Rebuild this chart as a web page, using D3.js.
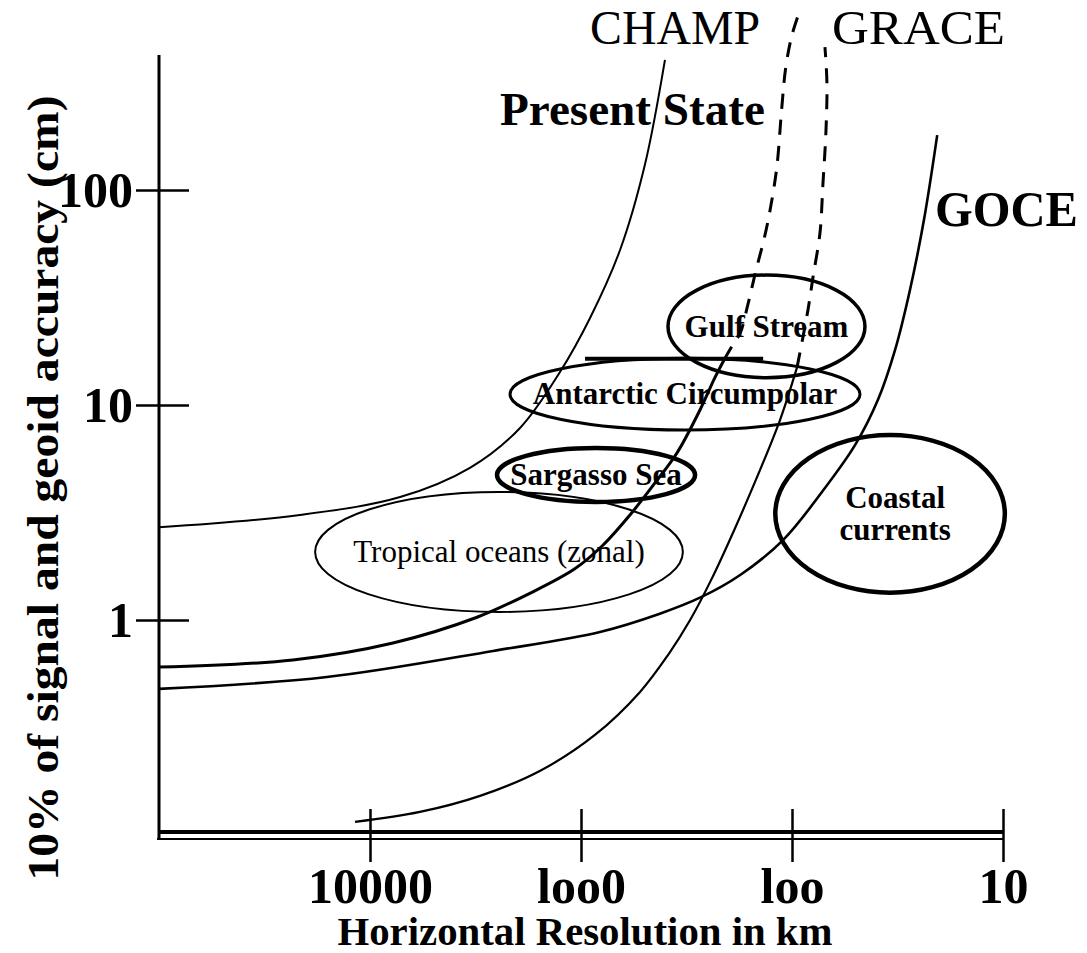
<!DOCTYPE html>
<html>
<head>
<meta charset="utf-8">
<script src="https://cdn.jsdelivr.net/npm/d3@7"></script>
<style>
  body { margin: 0; background: #fff; }
  text { font-family: "Liberation Serif", "Times New Roman", serif; fill: #000; }
</style>
</head>
<body>
<svg id="chart" width="1087" height="953"></svg>
<script>
// axis ticks
const xTicks = [10000, 1000, 100, 10];
const xTickLabels = ["10000", "loo0", "loo", "10"];
const yTicks = [100, 10, 1];
const yTickLabels = ["100", "10", "1"];

// curves, as [horizontal resolution km, accuracy cm]
const presentState = [[100000, 2.7], [21500, 3.08], [7200, 3.73], [3360, 5.1], [1950, 7.8], [1260, 14.2], [906, 25.4], [653, 52.6], [498, 131], [400, 403]];
const champSolid = [[100000, 0.604], [23200, 0.652], [7780, 0.782], [3110, 1.03], [1750, 1.33], [1070, 1.73], [790, 2.22], [586, 3.08], [446, 4.34], [351, 5.98], [273, 9.48], [232, 13.4], [210, 16.2]];
const champDashed = [[210, 16.2], [191, 19.0], [176, 21.6], [162, 29.2], [148, 42.5], [136, 58.5], [127, 80.7], [118, 128], [112, 236], [107, 373], [100, 526], [91.6, 688]];
const graceSolid = [[11780, 0.115], [5800, 0.128], [3010, 0.152], [1560, 0.199], [859, 0.292], [525, 0.463], [387, 0.687], [304, 1.0], [239, 1.57], [186, 2.68], [147, 4.58], [114, 8.51], [94.6, 15.0]];
const graceDashed = [[94.6, 15.0], [84, 27.7], [79.5, 39.4], [73.7, 63.1], [71.3, 108], [69.1, 184], [68.3, 315], [69.8, 462]];
const goce = [[100000, 0.478], [16000, 0.543], [2610, 0.718], [813, 0.88], [423, 1.07], [273, 1.27], [176, 1.62], [110, 2.36], [72.1, 3.94], [50.2, 6.52], [39.1, 10.6], [32.5, 18.0], [27.6, 34.3], [23.7, 72.5], [20.5, 180]];

// ocean signals: span in km and in cm
const regionNames = ["Gulf Stream", "Antarctic Circumpolar", "Sargasso Sea", "Tropical oceans (zonal)", "Coastal currents"];
const regionKm = [[387, 45.1], [2170, 47.6], [2500, 288], [18200, 329], [120, 9.8]];
const regionCm = [[13.4, 40.2], [7.65, 16.5], [3.54, 6.31], [1.09, 3.94], [1.34, 7.25]];
const regionStroke = [3.5, 3, 4.5, 2, 4.5];
const regionBold = [true, true, true, false, true];

const svg = d3.select("#chart");

const x = d3.scaleLog().domain([10000, 10]).range([370, 1003]);
const y = d3.scaleLog().domain([1, 100]).range([620, 190]);

const xLeft = x(100000);
const yBottom = y(0.1);

// curves
const line = d3.line()
  .x(d => x(d[0]))
  .y(d => y(d[1]))
  .curve(d3.curveCatmullRom.alpha(0.5));

const curves = [
  { data: presentState, w: 2, dash: null },
  { data: champSolid, w: 3, dash: null },
  { data: champDashed, w: 3, dash: "15,11" },
  { data: graceSolid, w: 2.2, dash: null },
  { data: graceDashed, w: 3, dash: "15,11" },
  { data: goce, w: 2.6, dash: null }
];

svg.append("g")
  .selectAll("path")
  .data(curves)
  .join("path")
  .attr("d", d => line(d.data))
  .attr("fill", "none")
  .attr("stroke", "#000")
  .attr("stroke-width", d => d.w)
  .attr("stroke-dasharray", d => d.dash);

// ellipses
const regions = regionNames.map((name, i) => {
  const x0 = x(regionKm[i][0]), x1 = x(regionKm[i][1]);
  const y0 = y(regionCm[i][0]), y1 = y(regionCm[i][1]);
  return { name, cx: (x0 + x1) / 2, cy: (y0 + y1) / 2, rx: Math.abs(x1 - x0) / 2, ry: Math.abs(y1 - y0) / 2, w: regionStroke[i], bold: regionBold[i] };
});

const reg = svg.append("g");
reg.selectAll("ellipse")
  .data(regions)
  .join("ellipse")
  .attr("cx", d => d.cx)
  .attr("cy", d => d.cy)
  .attr("rx", d => d.rx)
  .attr("ry", d => d.ry)
  .attr("fill", "none")
  .attr("stroke", "#000")
  .attr("stroke-width", d => d.w);

// thick stroke along the top of the Antarctic ellipse
reg.append("line")
  .attr("x1", x(957)).attr("x2", x(137))
  .attr("y1", y(16.4)).attr("y2", y(16.4))
  .attr("stroke", "#000")
  .attr("stroke-width", 4);

reg.selectAll("text")
  .data(regions)
  .join("text")
  .attr("x", d => d.cx)
  .attr("y", d => d.cy)
  .attr("text-anchor", "middle")
  .attr("font-size", 31)
  .attr("font-weight", d => d.bold ? "bold" : "normal")
  .each(function(d) {
    const words = d.name === "Coastal currents" ? ["Coastal", "currents"] : [d.name];
    const t = d3.select(this);
    words.forEach((w, k) => {
      t.append("tspan")
        .attr("x", d.cx + (words.length > 1 ? 5 : 0))
        .attr("dy", k === 0 ? (words.length > 1 ? "-0.2em" : "0.33em") : "1.05em")
        .text(w);
    });
  });

// x axis
const gx = svg.append("g")
  .attr("transform", `translate(0,${yBottom})`)
  .call(d3.axisBottom(x)
    .tickValues(xTicks)
    .tickFormat((d, i) => xTickLabels[i])
    .tickSizeOuter(0));
gx.select(".domain").remove();
gx.selectAll(".tick line")
  .attr("y1", -26).attr("y2", 27)
  .attr("stroke", "#000")
  .attr("stroke-width", 2.5);
gx.selectAll(".tick text")
  .attr("y", 32)
  .attr("font-size", 50)
  .attr("font-weight", "bold")
  .attr("font-family", "Liberation Serif, serif");

svg.append("line")
  .attr("x1", xLeft).attr("x2", x(10))
  .attr("y1", yBottom - 3).attr("y2", yBottom - 3)
  .attr("stroke", "#000").attr("stroke-width", 4);
svg.append("line")
  .attr("x1", xLeft - 2).attr("x2", x(10))
  .attr("y1", yBottom + 4).attr("y2", yBottom + 4)
  .attr("stroke", "#000").attr("stroke-width", 2);

// y axis
const gy = svg.append("g")
  .attr("transform", `translate(${xLeft},0)`)
  .call(d3.axisLeft(y)
    .tickValues(yTicks)
    .tickFormat((d, i) => yTickLabels[i])
    .tickSizeOuter(0));
gy.select(".domain").remove();
gy.selectAll(".tick line")
  .attr("x1", -23).attr("x2", 30)
  .attr("stroke", "#000")
  .attr("stroke-width", 2.5);
gy.selectAll(".tick text")
  .attr("x", -26)
  .attr("font-size", 50)
  .attr("font-weight", "bold")
  .attr("font-family", "Liberation Serif, serif");

svg.append("line")
  .attr("x1", xLeft).attr("x2", xLeft)
  .attr("y1", y(425)).attr("y2", yBottom + 5)
  .attr("stroke", "#000").attr("stroke-width", 3);

// titles
svg.append("text")
  .attr("x", 585).attr("y", 945)
  .attr("text-anchor", "middle")
  .attr("font-size", 40)
  .attr("font-weight", "bold")
  .attr("textLength", 495)
  .attr("lengthAdjust", "spacingAndGlyphs")
  .text("Horizontal  Resolution  in  km");

svg.append("text")
  .attr("transform", "translate(58,488) rotate(-90)")
  .attr("text-anchor", "middle")
  .attr("font-size", 44)
  .attr("font-weight", "bold")
  .attr("textLength", 785)
  .attr("lengthAdjust", "spacingAndGlyphs")
  .text("10% of signal and geoid accuracy (cm)");

// mission labels
const labels = [
  { t: "CHAMP", x: 590, y: 44, size: 48, bold: false, len: 170 },
  { t: "GRACE", x: 832, y: 44, size: 48, bold: false, len: 173 },
  { t: "Present State", x: 500, y: 125, size: 47, bold: true, len: 265 },
  { t: "GOCE", x: 935, y: 226, size: 50, bold: true, len: 143 }
];
svg.append("g")
  .selectAll("text")
  .data(labels)
  .join("text")
  .attr("x", d => d.x)
  .attr("y", d => d.y)
  .attr("font-size", d => d.size)
  .attr("font-weight", d => d.bold ? "bold" : "normal")
  .attr("textLength", d => d.len)
  .attr("lengthAdjust", "spacingAndGlyphs")
  .text(d => d.t);
</script>
</body>
</html>
